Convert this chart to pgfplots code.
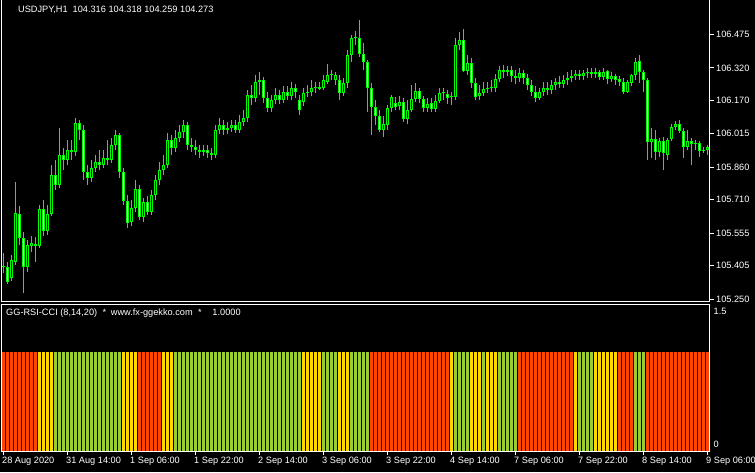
\documentclass[border=0pt]{standalone}
\usepackage{pgfplots}
\pgfplotsset{compat=1.18}
\usepackage{pgfplotstable}
\usepackage{fontspec}
\setmainfont{Liberation Sans}
\definecolor{candle}{RGB}{0,255,0}
\definecolor{bandred}{RGB}{255,69,0}
\definecolor{bandyel}{RGB}{255,215,0}
\definecolor{bandgrn}{RGB}{154,205,50}
\newcommand{\mt}{\fontsize{9.2pt}{10pt}\selectfont}

% hourly USDJPY bars: x = bar number, o h l c, k = GG-RSI-CCI state (1 red, 2 yellow, 3 green)
\pgfplotstableread{
x o h l c k
0 105.399 105.464 105.372 105.404 1
1 105.399 105.423 105.321 105.330 1
2 105.349 105.455 105.335 105.432 1
3 105.423 105.792 105.409 105.649 1
4 105.644 105.681 105.501 105.533 1
5 105.533 105.561 105.279 105.399 1
6 105.399 105.524 105.376 105.501 1
7 105.497 105.543 105.469 105.510 1
8 105.497 105.538 105.423 105.506 1
9 105.497 105.686 105.487 105.668 2
10 105.668 105.709 105.543 105.566 2
11 105.566 105.686 105.547 105.644 2
12 105.644 105.871 105.635 105.825 2
13 105.825 105.894 105.755 105.778 3
14 105.778 106.042 105.765 105.917 3
15 105.917 105.949 105.848 105.894 3
16 105.894 105.986 105.871 105.940 3
17 105.940 105.986 105.894 105.931 3
18 105.931 106.088 105.912 106.065 3
19 106.065 106.079 105.986 106.033 3
20 106.033 106.056 105.802 105.839 3
21 105.839 105.871 105.778 105.811 3
22 105.811 105.894 105.792 105.857 3
23 105.857 105.917 105.839 105.885 3
24 105.885 105.940 105.848 105.871 3
25 105.871 105.940 105.857 105.903 3
26 105.903 105.986 105.871 105.894 3
27 105.894 105.996 105.880 105.963 3
28 105.963 106.033 105.940 106.010 3
29 106.010 106.019 105.811 105.839 3
30 105.839 105.857 105.686 105.705 2
31 105.705 105.732 105.580 105.603 2
32 105.607 105.709 105.589 105.672 2
33 105.672 105.802 105.654 105.760 2
34 105.760 105.778 105.617 105.631 1
35 105.631 105.718 105.607 105.700 1
36 105.700 105.728 105.640 105.654 1
37 105.654 105.755 105.640 105.732 1
38 105.732 105.825 105.709 105.802 1
39 105.802 105.885 105.778 105.848 1
40 105.848 105.917 105.825 105.871 2
41 105.871 106.019 105.857 105.986 2
42 105.986 106.010 105.917 105.949 2
43 105.949 106.033 105.931 105.996 3
44 105.996 106.056 105.977 106.024 3
45 106.024 106.079 105.996 106.056 3
46 106.056 106.070 105.940 105.963 3
47 105.963 105.996 105.931 105.954 3
48 105.954 105.986 105.917 105.940 3
49 105.940 105.963 105.903 105.931 3
50 105.931 105.963 105.912 105.940 3
51 105.940 105.963 105.903 105.926 3
52 105.926 105.949 105.894 105.917 3
53 105.917 106.056 105.903 106.033 3
54 106.033 106.088 106.014 106.056 3
55 106.056 106.079 106.010 106.033 3
56 106.033 106.070 106.014 106.042 3
57 106.042 106.079 106.024 106.056 3
58 106.056 106.079 106.019 106.033 3
59 106.033 106.102 106.019 106.070 3
60 106.070 106.125 106.051 106.088 3
61 106.088 106.218 106.070 106.195 3
62 106.195 106.241 106.148 106.181 3
63 106.181 106.287 106.162 106.255 3
64 106.255 106.301 106.195 106.264 3
65 106.264 106.278 106.157 106.181 3
66 106.181 106.208 106.116 106.134 3
67 106.134 106.195 106.116 106.171 3
68 106.171 106.227 106.153 106.195 3
69 106.195 106.218 106.153 106.171 3
70 106.171 106.236 106.157 106.208 3
71 106.208 106.236 106.171 106.190 3
72 106.190 106.255 106.171 106.227 3
73 106.227 106.245 106.181 106.208 3
74 106.171 106.195 106.102 106.125 3
75 106.162 106.227 106.144 106.204 2
76 106.204 106.241 106.185 106.208 2
77 106.208 106.264 106.190 106.227 2
78 106.227 106.255 106.204 106.227 2
79 106.222 106.255 106.218 106.231 2
80 106.227 106.287 106.218 106.264 3
81 106.255 106.338 106.245 106.287 3
82 106.287 106.310 106.264 106.287 3
83 106.264 106.301 106.241 106.287 3
84 106.264 106.287 106.171 106.204 2
85 106.204 106.273 106.190 106.250 2
86 106.250 106.402 106.227 106.379 2
87 106.379 106.472 106.347 106.458 3
88 106.458 106.490 106.426 106.458 3
89 106.458 106.541 106.370 106.384 3
90 106.384 106.435 106.310 106.347 3
91 106.347 106.356 106.116 106.227 3
92 106.227 106.250 106.010 106.139 1
93 106.139 106.171 106.056 106.097 1
94 106.097 106.125 106.024 106.033 1
95 106.033 106.097 106.000 106.060 1
96 106.056 106.148 106.033 106.134 1
97 106.134 106.195 106.116 106.185 1
98 106.157 106.185 106.125 106.139 1
99 106.144 106.190 106.125 106.162 1
100 106.162 106.181 106.070 106.084 1
101 106.084 106.171 106.060 106.125 1
102 106.125 106.241 106.116 106.176 1
103 106.176 106.250 106.162 106.213 1
104 106.213 106.227 106.157 106.176 1
105 106.176 106.190 106.116 106.134 1
106 106.134 106.181 106.116 106.153 1
107 106.157 106.181 106.116 106.130 1
108 106.130 106.195 106.116 106.167 1
109 106.167 106.227 106.157 106.204 1
110 106.204 106.227 106.171 106.204 1
111 106.199 106.218 106.153 106.181 1
112 106.185 106.208 106.148 106.185 2
113 106.185 106.458 106.171 106.426 3
114 106.426 106.486 106.402 106.449 3
115 106.449 106.500 106.301 106.305 3
116 106.305 106.379 106.287 106.342 3
117 106.342 106.366 106.227 106.250 2
118 106.250 106.273 106.171 106.185 2
119 106.190 106.241 106.171 106.204 2
120 106.204 106.255 106.190 106.222 3
121 106.222 106.255 106.204 106.227 2
122 106.227 106.264 106.208 106.227 2
123 106.227 106.292 106.208 106.268 2
124 106.268 106.329 106.255 106.310 3
125 106.310 106.333 106.273 106.301 3
126 106.301 106.329 106.282 106.310 3
127 106.310 106.329 106.255 106.282 3
128 106.282 106.310 106.245 106.273 3
129 106.273 106.319 106.255 106.296 1
130 106.296 106.310 106.245 106.273 1
131 106.273 106.292 106.218 106.241 1
132 106.241 106.264 106.190 106.208 1
133 106.208 106.236 106.162 106.181 1
134 106.181 106.227 106.171 106.208 1
135 106.208 106.255 106.190 106.227 1
136 106.227 106.255 106.195 106.218 1
137 106.218 106.264 106.199 106.241 1
138 106.241 106.273 106.218 106.255 1
139 106.255 106.282 106.227 106.245 1
140 106.245 106.287 106.227 106.264 1
141 106.264 106.301 106.241 106.273 1
142 106.273 106.310 106.255 106.282 1
143 106.282 106.310 106.264 106.292 2
144 106.292 106.310 106.264 106.282 3
145 106.282 106.310 106.264 106.296 3
146 106.296 106.319 106.273 106.301 3
147 106.301 106.319 106.273 106.292 3
148 106.292 106.319 106.273 106.301 2
149 106.301 106.310 106.264 106.278 2
150 106.278 106.319 106.264 106.301 2
151 106.305 106.310 106.245 106.268 2
152 106.268 106.301 106.255 106.282 2
153 106.282 106.292 106.241 106.264 2
154 106.268 106.282 106.236 106.255 1
155 106.255 106.273 106.199 106.208 1
156 106.208 106.264 106.204 106.255 1
157 106.250 106.292 106.236 106.287 1
158 106.287 106.366 106.264 106.347 3
159 106.352 106.379 106.250 106.301 3
160 106.301 106.310 106.208 106.264 3
161 106.264 106.273 105.894 105.977 1
162 105.977 106.042 105.903 105.991 1
163 105.991 106.033 105.894 105.931 1
164 105.931 105.996 105.908 105.982 1
165 105.982 106.000 105.848 105.926 1
166 105.917 105.996 105.894 105.986 1
167 105.991 106.060 105.982 106.047 1
168 106.047 106.074 106.033 106.060 1
169 106.060 106.079 106.019 106.028 1
170 106.028 106.042 105.903 105.954 1
171 105.954 106.033 105.940 105.982 1
172 105.982 105.996 105.871 105.968 1
173 105.968 105.986 105.940 105.973 1
174 105.973 105.982 105.908 105.936 1
175 105.936 105.954 105.926 105.940 1
176 105.940 105.963 105.917 105.954 1
}\bars

\begin{document}
\begin{tikzpicture}
\fill[black] (0pt,0pt) rectangle (755pt,472pt);

% price panel
\begin{axis}[
  at={(1.5pt,170.5pt)}, anchor=south west, scale only axis,
  width=708pt, height=301.5pt,
  xmin=-0.5, xmax=176.5, ymin=105.2399, ymax=106.6336,
  axis line style={draw=none},
  clip mode=individual,
  xtick=\empty,
  ytick={105.250,105.405,105.555,105.710,105.860,106.015,106.170,106.320,106.475},
  yticklabels={105.250,105.405,105.555,105.710,105.860,106.015,106.170,106.320,106.475},
  ytick pos=right, yticklabel pos=right,
  tick align=outside, major tick length=4pt,
  y tick style={white, line width=1pt},
  yticklabel style={text=white, font=\mt, inner sep=0pt, xshift=2.5pt},
]
% wicks
\addplot[draw=none, mark=none, error bars/.cd, y dir=plus, y explicit, error mark=none,
  error bar style={draw=candle, line width=1pt}]
  table[x=x, y=l, y error plus expr={\thisrow{h}-\thisrow{l}}] {\bars};
% bodies
\addplot[draw=none, mark=none, error bars/.cd, y dir=plus, y explicit, error mark=none,
  error bar style={draw=candle, line width=3pt}]
  table[x=x, y expr={min(\thisrow{o},\thisrow{c})},
        y error plus expr={max(abs(\thisrow{c}-\thisrow{o}),0.0046)}] {\bars};
% hollow bull bodies
\addplot[draw=none, mark=none, error bars/.cd, y dir=plus, y explicit, error mark=none,
  error bar style={draw=black, line width=1pt}]
  table[x=x, y expr={min(\thisrow{o},\thisrow{c})+0.0046},
        y error plus expr={(\thisrow{c}>\thisrow{o})*max(abs(\thisrow{c}-\thisrow{o})-0.0092,0)}] {\bars};
% white bear bodies
\addplot[draw=none, mark=none, error bars/.cd, y dir=plus, y explicit, error mark=none,
  error bar style={draw=white, line width=1pt}]
  table[x=x, y expr={min(\thisrow{o},\thisrow{c})+0.0046},
        y error plus expr={(\thisrow{o}>\thisrow{c})*max(abs(\thisrow{c}-\thisrow{o})-0.0092,0)}] {\bars};
\draw[white, line width=1pt] (rel axis cs:0,1) -- (rel axis cs:0,0) -- (rel axis cs:1,0) -- (rel axis cs:1,1);
\end{axis}

% indicator panel
\begin{axis}[
  at={(1.5pt,21pt)}, anchor=south west, scale only axis,
  width=708pt, height=146.5pt,
  xmin=-0.5, xmax=176.5, ymin=0, ymax=1.487,
  axis line style={white, line width=1pt},
  xtick={0,16,...,176},
  xticklabels={28 Aug 2020,31 Aug 14:00,1 Sep 06:00,1 Sep 22:00,2 Sep 14:00,3 Sep 06:00,3 Sep 22:00,4 Sep 14:00,7 Sep 06:00,7 Sep 22:00,8 Sep 14:00,9 Sep 06:00},
  xtick pos=bottom,
  ytick={0.071,1.421}, yticklabels={0,1.5},
  ytick pos=right, yticklabel pos=right,
  tick align=outside, major tick length=4pt,
  x tick style={white, line width=1pt},
  y tick style={draw=none},
  xticklabel style={text=white, font=\mt, anchor=north west, inner sep=0pt, xshift=-1.5pt, yshift=-2pt},
  yticklabel style={text=white, font=\mt, inner sep=0pt},
]
\addplot[ycomb, draw=bandred, line width=3pt, mark=none] table[x=x, y expr={\thisrow{k}==1}] {\bars};
\addplot[ycomb, draw=bandyel, line width=3pt, mark=none] table[x=x, y expr={\thisrow{k}==2}] {\bars};
\addplot[ycomb, draw=bandgrn, line width=3pt, mark=none] table[x=x, y expr={\thisrow{k}==3}] {\bars};
\end{axis}

\node[text=white, font=\mt, anchor=west, inner sep=0pt] at (18pt,462pt) {USDJPY,H1\ \ 104.316 104.318 104.259 104.273};
\node[text=white, font=\mt, anchor=west, inner sep=0pt] at (6pt,159pt) {GG-RSI-CCI (8,14,20)\hspace{3pt} * \hspace{2pt}www.fx-ggekko.com\hspace{3pt} * \hspace{3pt}\ \ 1.0000};
\pgfresetboundingbox
\path[use as bounding box] (0pt,0pt) rectangle (755pt,472pt);
\end{tikzpicture}
\end{document}
